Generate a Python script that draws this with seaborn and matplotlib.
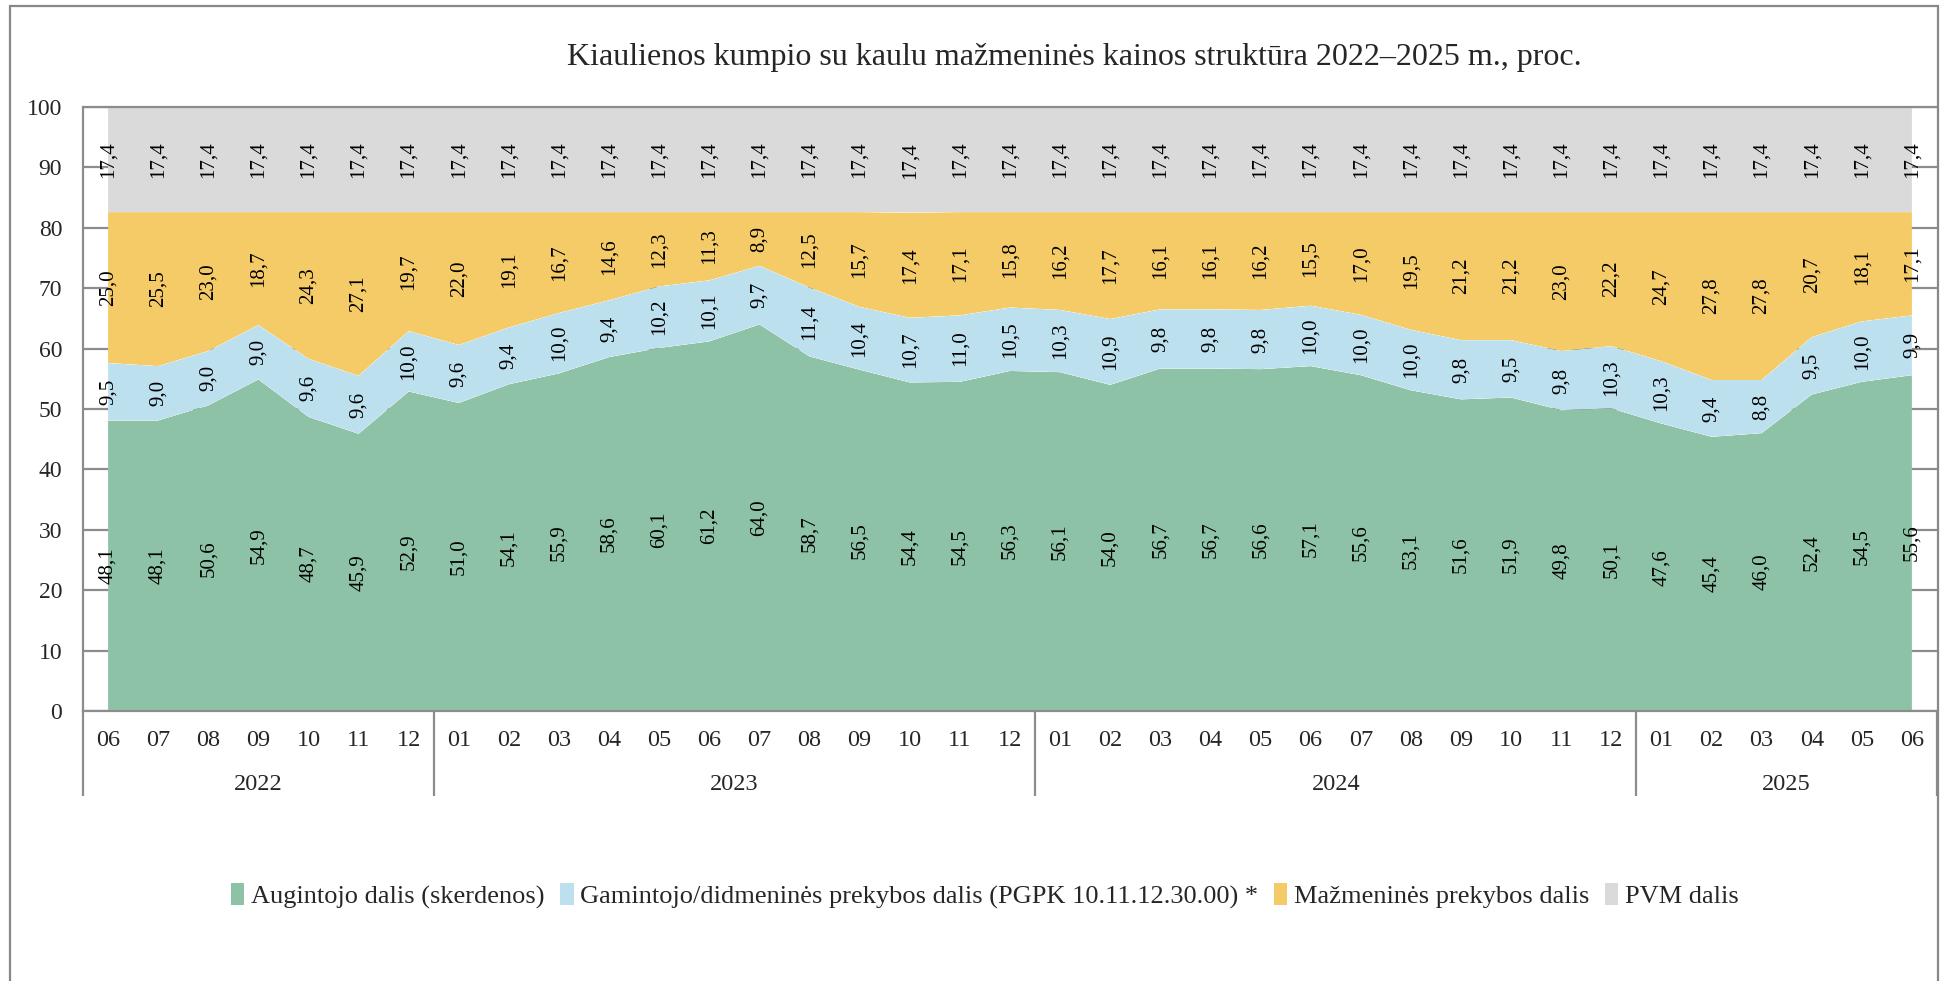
import numpy as np
import pandas as pd
import seaborn as sns
import seaborn.objects as so
import matplotlib
matplotlib.use("Agg")
import matplotlib.pyplot as plt
from matplotlib.patches import Rectangle, Patch
import matplotlib.transforms as mtransforms

# ---------------- data ----------------
months = ["06", "07", "08", "09", "10", "11", "12",
          "01", "02", "03", "04", "05", "06", "07", "08", "09", "10", "11", "12",
          "01", "02", "03", "04", "05", "06", "07", "08", "09", "10", "11", "12",
          "01", "02", "03", "04", "05", "06"]
years = ["2022", "2023", "2024", "2025"]
year_counts = [7, 12, 12, 6]

augintojo = [48.1, 48.1, 50.6, 54.9, 48.7, 45.9, 52.9,
             51.0, 54.1, 55.9, 58.6, 60.1, 61.2, 64.0, 58.7, 56.5, 54.4, 54.5, 56.3,
             56.1, 54.0, 56.7, 56.7, 56.6, 57.1, 55.6, 53.1, 51.6, 51.9, 49.8, 50.1,
             47.6, 45.4, 46.0, 52.4, 54.5, 55.6]
gamintojo = [9.5, 9.0, 9.0, 9.0, 9.6, 9.6, 10.0,
             9.6, 9.4, 10.0, 9.4, 10.2, 10.1, 9.7, 11.4, 10.4, 10.7, 11.0, 10.5,
             10.3, 10.9, 9.8, 9.8, 9.8, 10.0, 10.0, 10.0, 9.8, 9.5, 9.8, 10.3,
             10.3, 9.4, 8.8, 9.5, 10.0, 9.9]
mazmenines = [25.0, 25.5, 23.0, 18.7, 24.3, 27.1, 19.7,
              22.0, 19.1, 16.7, 14.6, 12.3, 11.3, 8.9, 12.5, 15.7, 17.4, 17.1, 15.8,
              16.2, 17.7, 16.1, 16.1, 16.2, 15.5, 17.0, 19.5, 21.2, 21.2, 23.0, 22.2,
              24.7, 27.8, 27.8, 20.7, 18.1, 17.1]
pvm = [17.4] * 37

series_names = ["Augintojo dalis (skerdenos)",
                "Gamintojo/didmeninės prekybos dalis (PGPK 10.11.12.30.00) *",
                "Mažmeninės prekybos dalis",
                "PVM dalis"]
series_values = [augintojo, gamintojo, mazmenines, pvm]
colors = ["#8DC2A6", "#BDE0EF", "#F4CB67", "#DADADA"]

title = "Kiaulienos kumpio su kaulu mažmeninės kainos struktūra 2022–2025 m., proc."

# ---------------- style ----------------
sns.set_theme(style="white")
plt.rcParams["font.family"] = ["Liberation Serif", "DejaVu Serif"]

n = len(months)
idx = np.arange(n)
df = pd.concat([
    pd.DataFrame({"idx": idx, "value": vals, "series": name})
    for name, vals in zip(series_names, series_values)
], ignore_index=True)

W, H, DPI = 1945, 981, 100
fig = plt.figure(figsize=(W / DPI, H / DPI), dpi=DPI)
fig.patch.set_facecolor("white")

ax_left, ax_right = 83 / W, 1937 / W
ax_top, ax_bottom = 1 - 107 / H, 1 - 711 / H
ax = fig.add_axes([ax_left, ax_bottom, ax_right - ax_left, ax_top - ax_bottom])

(
    so.Plot(df, x="idx", y="value", color="series")
    .add(so.Area(alpha=1, edgewidth=0), so.Stack())
    .scale(color=so.Nominal(colors, order=series_names))
    .on(ax)
    .plot()
)
# drop seaborn's automatic legend
fig.legends.clear()

ax.set_facecolor("white")
ax.set_xlim(-0.5, n - 0.5)
ax.set_ylim(0, 100)
ax.set_xlabel("")
ax.set_ylabel("")

grid_c = "#8C8C8C"
ax.set_yticks(np.arange(0, 101, 10))
ax.set_yticklabels([str(v) for v in range(0, 101, 10)], fontsize=17)
ax.yaxis.grid(True, color=grid_c, linewidth=1.6)
ax.xaxis.grid(False)
ax.set_axisbelow(True)
ax.tick_params(axis="y", length=0, pad=15)
# top line at 100 stays visible above the areas
ax.axhline(100, color=grid_c, linewidth=1.6, zorder=3, clip_on=False)

ax.set_xticks(idx)
ax.set_xticklabels(months, fontsize=17.5)
ax.tick_params(axis="x", length=0, pad=14)

for side in ["top", "right"]:
    ax.spines[side].set_visible(False)
for side in ["left", "bottom"]:
    ax.spines[side].set_color(grid_c)
    ax.spines[side].set_linewidth(1.6)

# data labels at band midpoints
cum = np.zeros(n)
for vals in series_values:
    v = np.array(vals)
    mids = cum + v / 2
    for i in range(n):
        ax.text(idx[i], mids[i], f"{v[i]:.1f}".replace(".", ","), rotation=90,
                ha="center", va="center", fontsize=15, color="black", zorder=5)
    cum = cum + v

# year labels and separators
trans = mtransforms.blended_transform_factory(ax.transData, ax.transAxes)
ax_h_px = 711 - 107
sep_bottom = -(796 - 711) / ax_h_px
year_y = -(784 - 711) / ax_h_px
start = -0.5
edges = [start]
for yr, cnt in zip(years, year_counts):
    end = start + cnt
    ax.text((start + end) / 2, year_y, yr, transform=trans, ha="center", va="center",
            fontsize=17.5)
    edges.append(end)
    start = end
for e in edges:
    ax.plot([e, e], [0, sep_bottom], transform=trans, color=grid_c, linewidth=1.6,
            clip_on=False, solid_capstyle="butt")

# title
fig.text(1074 / W, 1 - 58 / H, title, ha="center", va="center", fontsize=23)

# legend
handles = [Patch(facecolor=c, edgecolor="none") for c in colors]
fig.legend(handles, series_names, loc="center", bbox_to_anchor=(985 / W, 1 - 896 / H),
           ncol=4, frameon=False, fontsize=19, handlelength=0.5, handleheight=0.85,
           handletextpad=0.25, columnspacing=0.6)

# outer border
fig.patches.append(Rectangle((10 / W, -0.05), (1938 - 10) / W, 1 - 6 / H + 0.05,
                             transform=fig.transFigure, fill=False,
                             edgecolor="#888888", linewidth=1.6, zorder=10))

fig.savefig("out.png", dpi=DPI, facecolor="white")
